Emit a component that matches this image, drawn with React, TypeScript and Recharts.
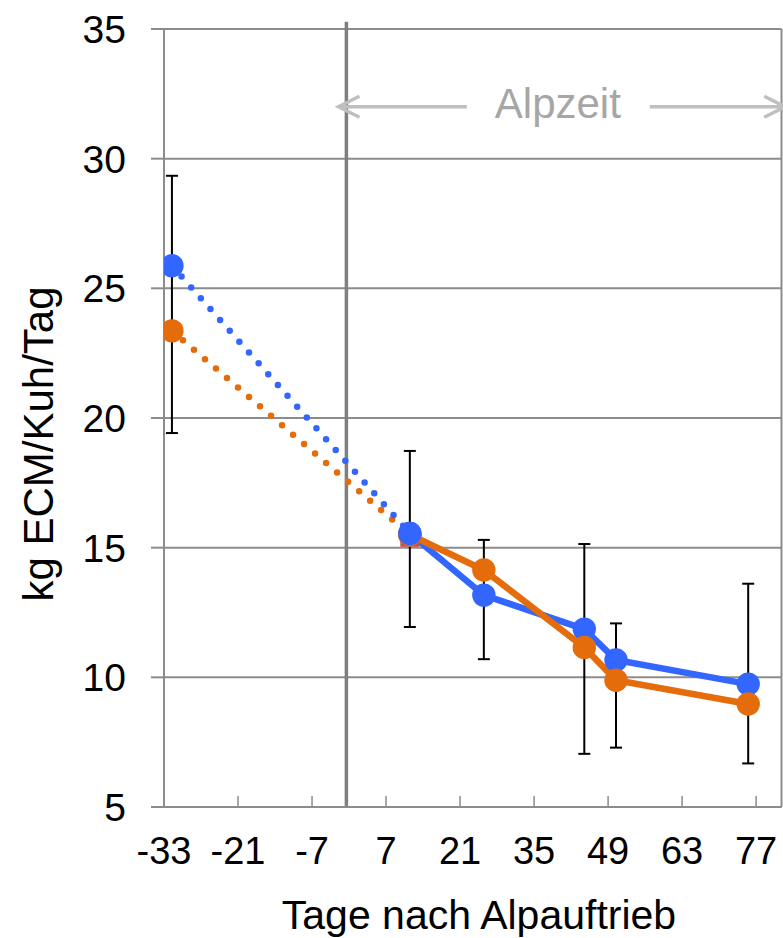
import {
   CartesianGrid,
   ErrorBar,
   Label,
   Line,
   LineChart,
   ReferenceLine,
   XAxis,
   YAxis,
} from 'recharts'

// Tage nach Alpauftrieb
const days = [-33, 12, 26, 45, 51, 76]
// kg ECM/Kuh/Tag
const blueSolid = [null, 15.55, 13.17, 11.86, 10.67, 9.74]
const orangeSolid = [null, 15.5, 14.14, 11.15, 9.89, 8.97]
const blueDotted = [25.87, 15.55, null, null, null, null]
const orangeDotted = [23.36, 15.5, null, null, null, null]
const redSquare = [null, 15.4, null, null, null, null]
const errLow = [19.42, 11.94, 10.7, 7.05, 7.29, 6.68]
const errHigh = [29.34, 18.73, 15.3, 15.14, 12.08, 13.61]

const xTickValues = [-34.5, -20.5, -6.5, 7.5, 21.5, 35.5, 49.5, 63.5, 77.5]
const xTickLabels = ['-33', '-21', '-7', '7', '21', '35', '49', '63', '77']
const yTicks = [5, 10, 15, 20, 25, 30, 35]

const BLUE = '#3366ff'
const ORANGE = '#e46c0a'
const RED = '#c0504d'
const GRID = '#8c8c8c'

const data = days.map((x, i) => ({
   x,
   blueSolid: blueSolid[i],
   orangeSolid: orangeSolid[i],
   blueDotted: blueDotted[i],
   orangeDotted: orangeDotted[i],
   redSquare: redSquare[i],
   errLow: errLow[i],
   errSpan: [0, +(errHigh[i] - errLow[i]).toFixed(2)],
}))

const roundDot = (color: string, name: string) => (p: any) => {
   if (p.cx == null || p.cy == null || p.value == null)
      return <g key={`${name}-${p.index}`} />
   return (
      <circle
         key={`${name}-${p.index}`}
         cx={p.cx}
         cy={p.cy}
         r={11.7}
         fill={color}
      />
   )
}

const squareDot = (p: any) => {
   if (p.cx == null || p.cy == null || p.value == null)
      return <g key={`sq-${p.index}`} />
   return (
      <rect
         key={`sq-${p.index}`}
         x={p.cx - 9.5}
         y={p.cy - 9.5}
         width={19}
         height={19}
         fill={RED}
      />
   )
}

// double arrow with text in the middle ("Alpzeit")
const AlpArrow = (p: any) => {
   const { x1, y1, x2 } = p
   const cx = (x1 + x2) / 2 - 4
   const c = '#bfbfbf'
   return (
      <g>
         <path
            d={`M${x1 + 21},${y1 - 10.5} L${x1},${y1} L${x1 + 21},${y1 + 10.5} M${x1},${y1} L${cx - 91},${y1}`}
            stroke={c}
            strokeWidth={3.5}
            fill="none"
         />
         <path
            d={`M${x2 - 21},${y1 - 10.5} L${x2},${y1} L${x2 - 21},${y1 + 10.5} M${x2},${y1} L${cx + 92},${y1}`}
            stroke={c}
            strokeWidth={3.5}
            fill="none"
         />
         <text
            x={cx}
            y={y1 + 11}
            textAnchor="middle"
            fontSize={42}
            fill="#a6a6a6"
         >
            Alpzeit
         </text>
      </g>
   )
}

export default function App() {
   return (
      <div
         style={{
            position: 'absolute',
            left: 0,
            top: 0,
            width: 783,
            height: 938,
            background: '#fff',
            fontFamily: '"Liberation Sans", Arial, sans-serif',
         }}
      >
         <LineChart
            width={783}
            height={938}
            data={data}
            margin={{ top: 29, right: 1.5, bottom: 0, left: 0 }}
         >
            <CartesianGrid vertical={false} stroke={GRID} strokeWidth={2} />
            <XAxis
               type="number"
               dataKey="x"
               domain={[-34.5, 82.3]}
               allowDataOverflow
               ticks={xTickValues}
               interval={0}
               tickFormatter={(v: number) => xTickLabels[xTickValues.indexOf(v)]}
               tickSize={-11}
               tickMargin={41}
               height={131}
               axisLine={{ stroke: GRID, strokeWidth: 2 }}
               tickLine={{ stroke: GRID, strokeWidth: 1.5 }}
               tick={{ fontSize: 38, fill: '#000' }}
            >
               <Label
                  content={() => (
                     <text x={479} y={929} textAnchor="middle" fontSize={41} fill="#000">
                        Tage nach Alpauftrieb
                     </text>
                  )}
               />
            </XAxis>
            <YAxis
               type="number"
               domain={[5, 35]}
               ticks={yTicks}
               interval={0}
               width={164}
               tickSize={13}
               tickMargin={25}
               axisLine={{ stroke: GRID, strokeWidth: 2 }}
               tickLine={{ stroke: GRID, strokeWidth: 2 }}
               tick={{ fontSize: 39, fill: '#000' }}
            >
               <Label
                  content={() => (
                     <text
                        x={53}
                        y={444}
                        transform="rotate(-90, 53, 444)"
                        textAnchor="middle"
                        fontSize={42}
                        fill="#000"
                     >
                        kg ECM/Kuh/Tag
                     </text>
                  )}
               />
            </YAxis>
            <ReferenceLine
               segment={[
                  { x: 82.3, y: 5 },
                  { x: 82.3, y: 35 },
               ]}
               stroke={GRID}
               strokeWidth={2}
               ifOverflow="visible"
            />
            <ReferenceLine
               segment={[
                  { x: 0, y: 5 },
                  { x: 0, y: 35.28 },
               ]}
               stroke="#7f7f7f"
               strokeWidth={3.5}
               ifOverflow="visible"
            />
            <ReferenceLine
               segment={[
                  { x: -1.5, y: 32 },
                  { x: 83, y: 32 },
               ]}
               ifOverflow="visible"
               shape={AlpArrow}
            />
            <Line
               dataKey="errLow"
               stroke="none"
               dot={false}
               activeDot={false}
               isAnimationActive={false}
            >
               <ErrorBar
                  dataKey="errSpan"
                  direction="y"
                  width={6}
                  stroke="#000"
                  strokeWidth={2}
               />
            </Line>
            <Line
               dataKey="blueSolid"
               stroke={BLUE}
               strokeWidth={6.5}
               dot={roundDot(BLUE, 'bs')}
               activeDot={false}
               isAnimationActive={false}
            />
            <Line
               dataKey="orangeSolid"
               stroke={ORANGE}
               strokeWidth={6.5}
               dot={roundDot(ORANGE, 'os')}
               activeDot={false}
               isAnimationActive={false}
            />
            <Line
               dataKey="redSquare"
               stroke="none"
               dot={squareDot}
               activeDot={false}
               isAnimationActive={false}
            />
            <Line
               dataKey="orangeDotted"
               stroke={ORANGE}
               strokeWidth={6.5}
               strokeDasharray="0 14.5"
               strokeLinecap="round"
               dot={roundDot(ORANGE, 'od')}
               activeDot={false}
               isAnimationActive={false}
            />
            <Line
               dataKey="blueDotted"
               stroke={BLUE}
               strokeWidth={6.5}
               strokeDasharray="0 14.5"
               strokeLinecap="round"
               dot={roundDot(BLUE, 'bd')}
               activeDot={false}
               isAnimationActive={false}
            />
         </LineChart>
      </div>
   )
}
